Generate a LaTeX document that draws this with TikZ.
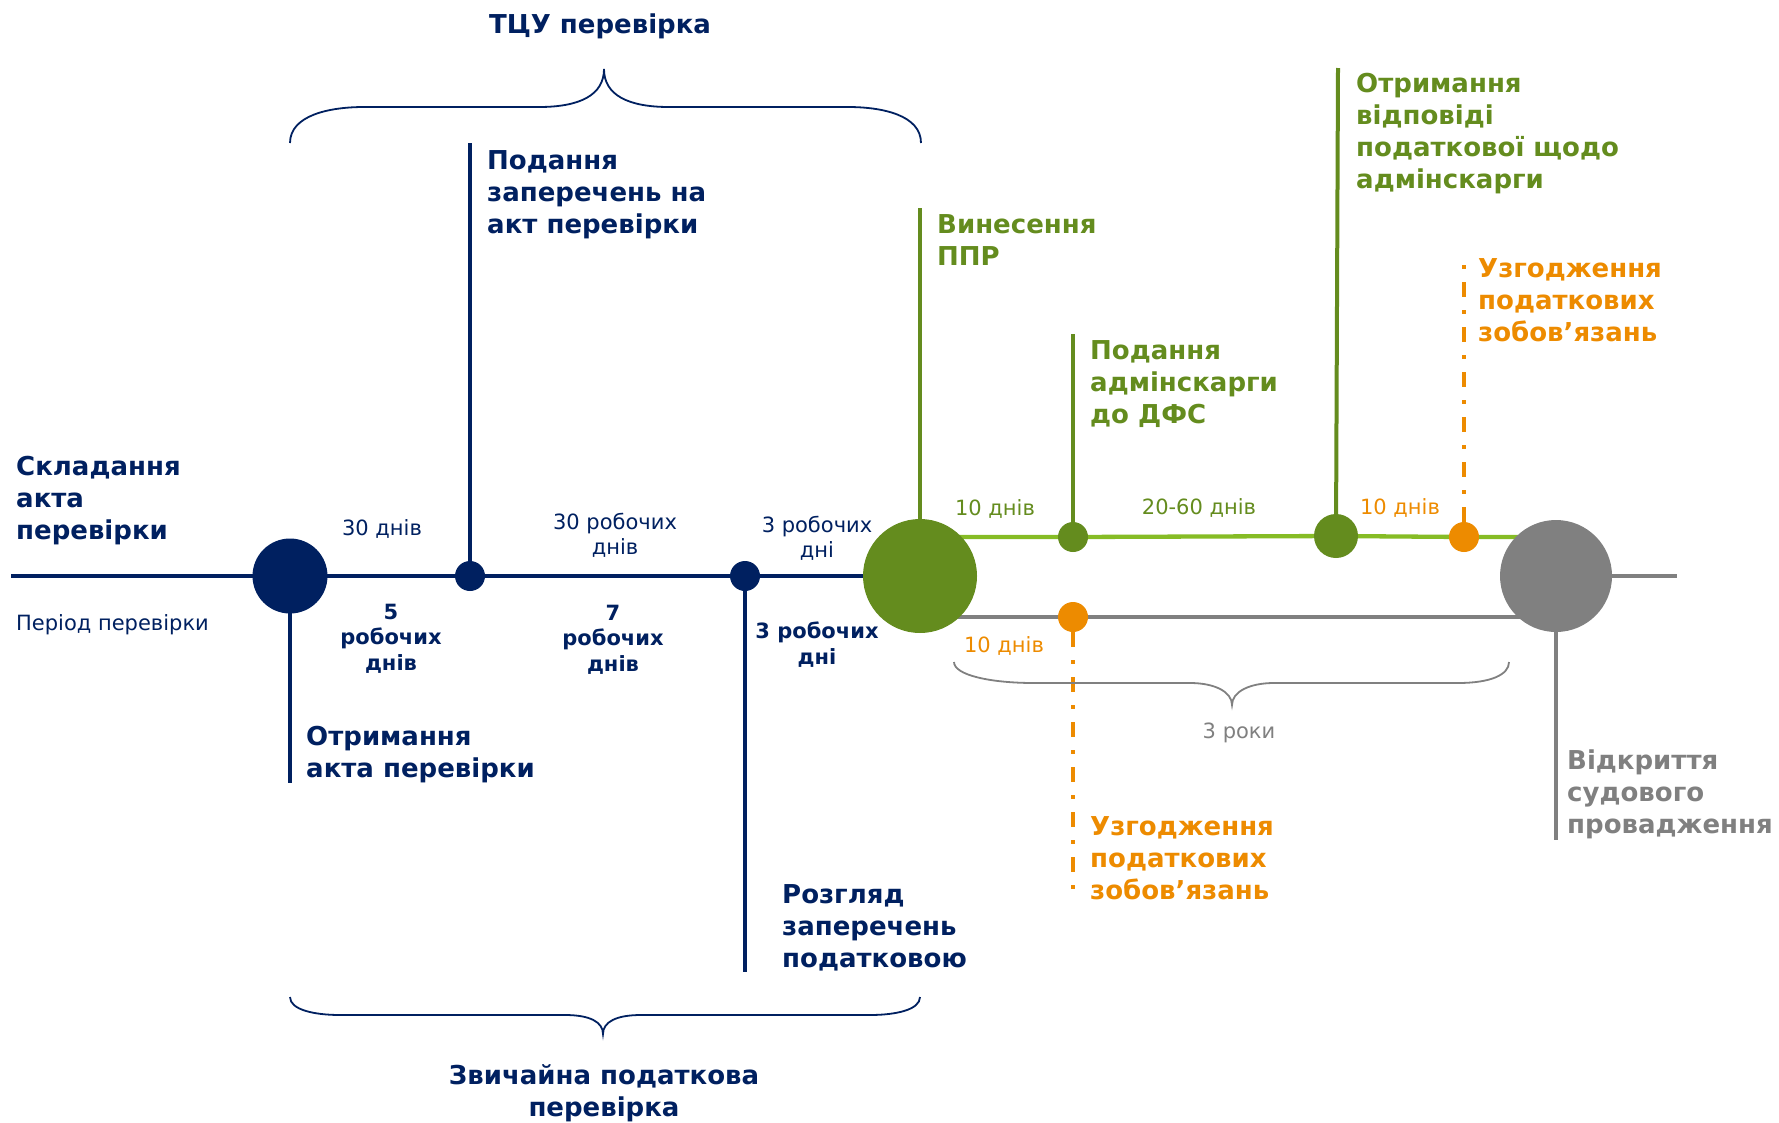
\documentclass[tikz,border=0pt]{standalone}
\usepackage{fontspec}
\setmainfont{DejaVu Sans}
\usetikzlibrary{backgrounds}
\definecolor{navy}{HTML}{002060}
\definecolor{dgreen}{HTML}{648C1E}
\definecolor{lgreen}{HTML}{86BC25}
\definecolor{orng}{HTML}{ED8B00}
\definecolor{gry}{HTML}{808080}
\begin{document}
\begin{tikzpicture}[x=1pt,y=-1pt,
  dot/.style={circle,inner sep=0pt,minimum size=#1},
  bigtxt/.style={font=\fontsize{26}{32}\selectfont\bfseries,align=left,anchor=base west,inner sep=0pt},
  boldnum/.style={font=\fontsize{21}{25.5}\selectfont\bfseries,align=center,anchor=base,inner sep=0pt},
  regtxt/.style={font=\fontsize{21}{25}\selectfont,align=center,anchor=base,inner sep=0pt},
  axisline/.style={line width=4.3pt},
  stem/.style={line width=4pt},
  dashstem/.style={line width=4pt,dash pattern=on 15pt off 13pt on 4pt off 13pt},
  bracepath/.style={line width=1.8pt}]
\useasboundingbox (0,0) rectangle (1779,1122);

% milestones on the time axis
\node[dot=75,fill=navy] (n1) at (290,576) {};
\node[dot=30,fill=navy] (n2) at (470,576) {};
\node[dot=30,fill=navy] (n3) at (745,576) {};
\node[dot=114,fill=dgreen] (g0) at (920,576) {};
\node[dot=30,fill=dgreen] (g1) at (1073,537) {};
\node[dot=44,fill=dgreen] (g2) at (1336,536) {};
\node[dot=30,fill=orng] (o1) at (1464,537) {};
\node[dot=112,fill=gry] (s0) at (1556,576) {};
\node[dot=30,fill=orng] (o2) at (1073,617) {};

% free ends of lines
\coordinate (lstart) at (11,576);
\coordinate (rend) at (1677,576);
\coordinate (n1down) at (290,783);
\coordinate (n2up) at (470,143);
\coordinate (n3down) at (745,972);
\coordinate (g0up) at (920,208);
\coordinate (g1up) at (1073,334);
\coordinate (g2up) at (1338,68);
\coordinate (o1up) at (1464,259);
\coordinate (o2down) at (1073,902);
\coordinate (s0down) at (1556,840);

\begin{scope}[on background layer]
  \draw[axisline,navy] (lstart) -- (n1.center) -- (n2.center) -- (n3.center) -- (g0.center);
  \draw[axisline,gry] (s0.center) -- (rend);
  \draw[axisline,lgreen] (g0.center |- g1.center) -- (g1.center) -- (g2.center) -- (o1.center) -- (s0.center |- o1.center);
  \draw[axisline,gry] (g0.center |- o2.center) -- (o2.center) -- (s0.center |- o2.center);
  \draw[stem,navy] (n1.center) -- (n1down);
  \draw[stem,navy] (n2.center) -- (n2up);
  \draw[stem,navy] (n3.center) -- (n3down);
  \draw[stem,dgreen] (g0.center) -- (g0up);
  \draw[stem,dgreen] (g1.center) -- (g1up);
  \draw[stem,dgreen] (g2.center) -- (g2up);
  \draw[stem,gry] (s0.center) -- (s0down);
  \draw[dashstem,orng] (o1) -- (o1up);
  \draw[dashstem,orng] (o2) -- (o2down);
\end{scope}

% braces
\draw[bracepath,navy] (290,143) .. controls (290,115) and (330,107) .. (364,107) -- (539,107)
  .. controls (580,107) and (604,95) .. (604,69) .. controls (604,95) and (628,107) .. (669,107)
  -- (848,107) .. controls (882,107) and (921,115) .. (921,143);
\draw[bracepath,navy] (290,997) .. controls (290,1010) and (315,1015) .. (340,1015) -- (565,1015)
  .. controls (590,1015) and (603,1022) .. (603,1034) .. controls (603,1022) and (616,1015) .. (641,1015)
  -- (870,1015) .. controls (895,1015) and (920,1010) .. (920,997);
\draw[bracepath,gry] (954,662) .. controls (954,675) and (990,683) .. (1034,683) -- (1190,683)
  .. controls (1215,683) and (1232,692) .. (1232,705) .. controls (1232,692) and (1249,683) .. (1274,683)
  -- (1458,683) .. controls (1490,683) and (1509,675) .. (1509,662);

% headings and event labels (positions give the baseline of the last line)
\node[bigtxt,anchor=base,align=center,text=navy] (tcu) at (600,33) {ТЦУ перевірка};
\node[bigtxt,anchor=base,align=center,text=navy] (zvych) at (604,1116) {Звичайна податкова\\перевірка};
\node[bigtxt,text=navy] (sklad) at (16,539) {Складання\\акта\\перевірки};
\node[bigtxt,text=navy] (podzap) at (487,233) {Подання\\заперечень на\\акт перевірки};
\node[bigtxt,text=navy] (otrakt) at (306,777) {Отримання\\акта перевірки};
\node[bigtxt,text=navy] (rozgl) at (782,967) {Розгляд\\заперечень\\податковою};
\node[bigtxt,text=dgreen] (ppr) at (937,265) {Винесення\\ППР};
\node[bigtxt,text=dgreen] (admin) at (1090,423) {Подання\\адмінскарги\\до ДФС};
\node[bigtxt,text=dgreen] (vidp) at (1356,188) {Отримання\\відповіді\\податкової щодо\\адмінскарги};
\node[bigtxt,text=orng] (uzg1) at (1478,341) {Узгодження\\податкових\\зобов’язань};
\node[bigtxt,text=orng] (uzg2) at (1090,899) {Узгодження\\податкових\\зобов’язань};
\node[bigtxt,text=gry] (sud) at (1567,833) {Відкриття\\судового\\провадження};

% period labels
\node[regtxt,anchor=base west,text=navy] (period) at (16,630) {Період перевірки};
\node[regtxt,text=navy] (d30) at (382,535) {30 днів};
\node[regtxt,text=navy] (w30) at (615,554) {30 робочих\\днів};
\node[regtxt,text=navy] (w3a) at (817,557) {3 робочих\\дні};
\node[boldnum,text=navy] (w5) at (391,670) {5\\робочих\\днів};
\node[boldnum,text=navy] (w7) at (613,671) {7\\робочих\\днів};
\node[boldnum,text=navy] (w3b) at (817,664) {3 робочих\\дні};
\node[regtxt,text=dgreen] (d10a) at (995,515) {10 днів};
\node[regtxt,text=dgreen] (d2060) at (1199,514) {20-60 днів};
\node[regtxt,text=orng] (d10b) at (1400,514) {10 днів};
\node[regtxt,text=orng] (d10c) at (1004,652) {10 днів};
\node[regtxt,text=gry] (r3) at (1239,738) {3 роки};
\end{tikzpicture}
\end{document}
